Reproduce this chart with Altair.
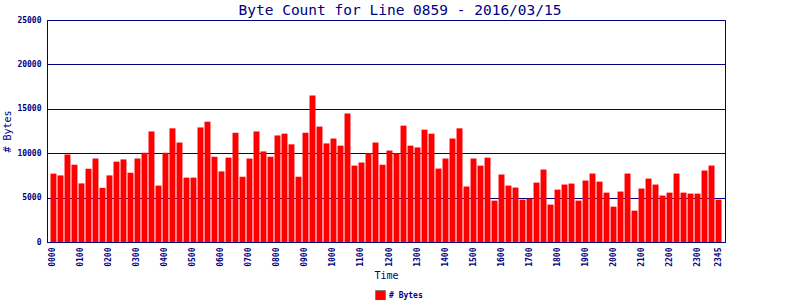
import altair as alt
import pandas as pd

times = [f"{h:02d}{m:02d}" for h in range(24) for m in (0, 15, 30, 45)]

bytes_values = [
    7700, 7500, 9850, 8700, 6600, 8250, 9400, 6100,
    7500, 9050, 9300, 7800, 9400, 10050, 12450, 6350,
    10050, 12800, 11200, 7250, 7250, 12900, 13550, 9600,
    7950, 9500, 12300, 7350, 9400, 12450, 10200, 9600,
    12000, 12200, 11000, 7350, 12300, 16500, 13000, 11100,
    11650, 10850, 14470, 8600, 8950, 10000, 11200, 8700,
    10300, 10000, 13100, 10850, 10650, 12650, 12200, 8270,
    9400, 11650, 12800, 6250, 9400, 8600, 9500, 4660,
    7600, 6350, 6130, 4770, 4890, 6690, 8160, 4210,
    5900, 6470, 6580, 4660, 6920, 7710, 6800, 5560,
    3980, 5680, 7710, 3530, 6020, 7140, 6470, 5230,
    5560, 7710, 5560, 5450, 5450, 8050, 8610, 4770,
]

tick_labels = [
    "0000", "0100", "0200", "0300", "0400", "0500", "0600", "0700",
    "0800", "0900", "1000", "1100", "1200", "1300", "1400", "1500",
    "1600", "1700", "1800", "1900", "2000", "2100", "2200", "2300", "2345",
]

y_ticks = [0, 5000, 10000, 15000, 20000, 25000]

series_name = "# Bytes"

df = pd.DataFrame({"time": times, "bytes": bytes_values, "series": series_name})

NAVY = "#000080"
MONO = "DejaVu Sans Mono"

chart = (
    alt.Chart(df)
    .mark_bar(color="#ff0000")
    .encode(
        x=alt.X(
            "time:O",
            sort=None,
            scale=alt.Scale(paddingInner=0.15, paddingOuter=0.5),
            axis=alt.Axis(
                title="Time",
                values=tick_labels,
                labelAngle=270,
                labelFont=MONO,
                labelFontSize=8,
                labelFontWeight="bold",
                labelColor=NAVY,
                labelPadding=5,
                ticks=False,
                domainColor=NAVY,
                domainWidth=1,
                titleFont=MONO,
                titleFontSize=10,
                titleFontWeight="normal",
                titleColor=NAVY,
                titlePadding=4,
                grid=False,
            ),
        ),
        y=alt.Y(
            "bytes:Q",
            scale=alt.Scale(domain=[0, 25000], nice=False),
            axis=alt.Axis(
                title="# Bytes",
                values=y_ticks,
                format="d",
                labelFont=MONO,
                labelFontSize=8,
                labelFontWeight="bold",
                labelColor=NAVY,
                labelPadding=6,
                ticks=False,
                domainColor=NAVY,
                domainWidth=1,
                grid=True,
                gridColor=NAVY,
                gridWidth=1,
                gridOpacity=1,
                titleFont=MONO,
                titleFontSize=10,
                titleFontWeight="normal",
                titleColor=NAVY,
                titlePadding=4,
            ),
        ),
        color=alt.Color(
            "series:N",
            scale=alt.Scale(range=["#ff0000"]),
            legend=alt.Legend(
                title=None,
                orient="none",
                legendX=328,
                legendY=270,
                direction="horizontal",
                symbolType="square",
                symbolSize=100,
                symbolStrokeColor="#808080",
                symbolStrokeWidth=1,
                symbolOpacity=1,
                labelFont=MONO,
                labelFontSize=8,
                labelFontWeight="bold",
                labelColor=NAVY,
                labelOffset=3,
            ),
        ),
    )
    .properties(
        width=678,
        height=222,
        background="white",
        autosize=alt.AutoSizeParams(type="none"),
        padding={"left": 47, "top": 20, "right": 75, "bottom": 58},
        title=alt.TitleParams(
            text="Byte Count for Line 0859 - 2016/03/15",
            font=MONO,
            fontSize=14.5,
            fontWeight="normal",
            color=NAVY,
            anchor="middle",
            frame="group",
            dx=14,
            offset=-2,
        ),
    )
    .configure_view(stroke=NAVY, strokeWidth=1, strokeOpacity=1)
)

chart.save("out.html", embed_options={"renderer": "svg", "actions": False})
